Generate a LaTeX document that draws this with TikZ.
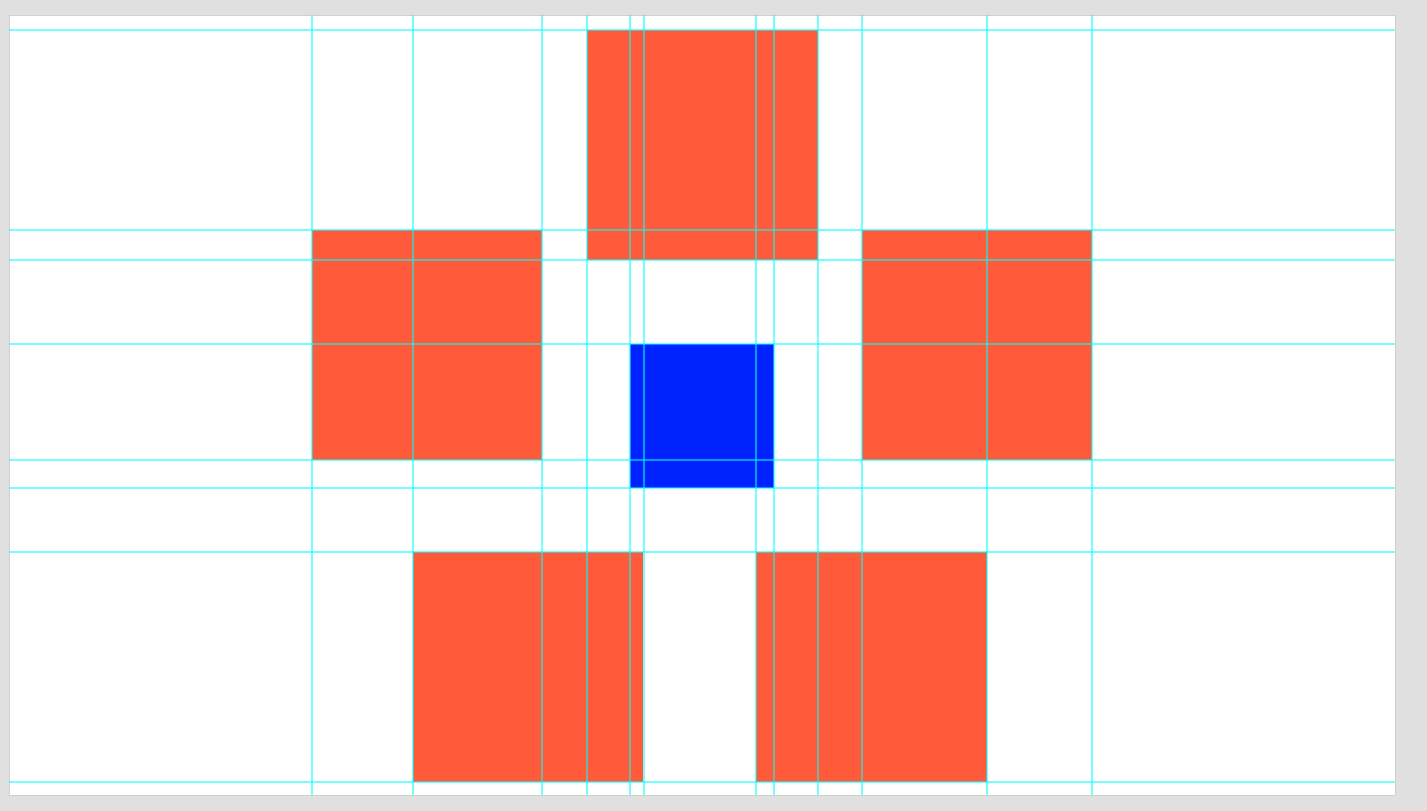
\documentclass[tikz,border=0pt]{standalone}
\usepackage{tikz}
\definecolor{gridbg}{RGB}{224,224,224}
\definecolor{gridedge}{RGB}{208,208,208}
\definecolor{gridblock}{RGB}{255,91,58}
\definecolor{gridcore}{RGB}{0,34,255}
\definecolor{gridguide}{RGB}{0,255,255}
\tikzset{
  gridbase/.style={x=1pt,y=-1pt,line cap=butt},
  gridsheet/.style={fill=white,draw=gridedge,line width=1pt},
  gridbox/.style={fill=gridblock},
  gridinner/.style={fill=gridcore},
  gridline/.style={draw=gridguide,line width=2pt,opacity=.55}
}

\begin{document}
\begin{tikzpicture}[gridbase]
\fill[gridbg] (0,0) rectangle (1427,811);
\useasboundingbox (0,0) rectangle (1427,811);
\draw[gridsheet] (9,15) rectangle (1395,795);
% blocks
\fill[gridbox] (587,30) rectangle (818,260);
\fill[gridbox] (312,230) rectangle (542,460);
\fill[gridbox] (862,230) rectangle (1092,460);
\fill[gridinner] (630,344) rectangle (774,488);
\fill[gridbox] (413,552) rectangle (643,782);
\fill[gridbox] (756,552) rectangle (987,782);
% guides
\foreach \gy in {30,230,260,344,460,488,552,782}
  \draw[gridline] (9,\gy)--(1395,\gy);
\foreach \gx in {312,413,542,587,630,644,756,774,818,862,987,1092}
  \draw[gridline] (\gx,15)--(\gx,795);
\end{tikzpicture}
\end{document}
